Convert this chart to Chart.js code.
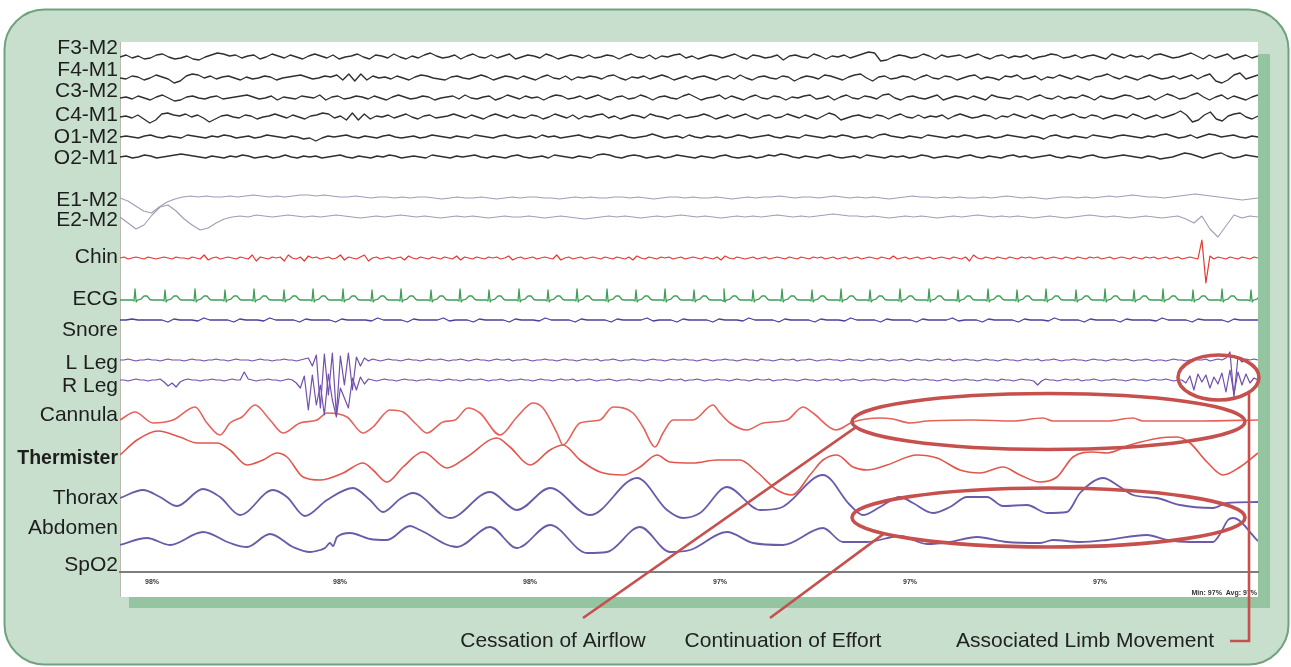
<!DOCTYPE html>
<html>
<head>
<meta charset="utf-8">
<script src="https://cdn.jsdelivr.net/npm/chart.js@4/dist/chart.umd.min.js"></script>
<style>
html,body{margin:0;padding:0;background:#fff;overflow:hidden}
canvas{display:block}
</style>
</head>
<body>
<canvas id="psg" width="1291" height="667"></canvas>
<script>
// ---- Epoch data (time axis in samples, amplitudes in display units, up = positive) ----
const SPAN = 1138;

const channelNames = ['F3-M2','F4-M1','C3-M2','C4-M1','O1-M2','O2-M1','E1-M2','E2-M2','Chin','ECG','Snore','L Leg','R Leg','Cannula','Thermister','Thorax','Abdomen','SpO2'];

const f3m2 = [0,2,-1,1,-2,-1,2,3,0,-2,-1,1,-2,-3,0,2,4,3,1,2,-1,1,2,-2,0,3,1,-1,2,0,-2,1,3,1,-1,2,-2,0,1,3,0,-2,2,1,-1,3,0,-2,1,-1,2,4,1,-1,0,2,-2,1,3,0,-1,2,-1,1,3,-2,0,2,1,-1,3,1,-2,0,2,1,-1,2,-1,0,2,1,-2,1,3,0,-1,2,-2,1,0,2,3,-1,1,-2,0,2,1,-1,1,3,0,-2,2,1,-1,0,2,-3,1,2,0,-1,3,1,-2,1,0,2,-1,1,3,5,4,-4,-3,0,2,1,-1,0,3,1,-2,2,0,1,2,-1,1,3,0,-2,1,2,-1,1,0,2,-2,0,1,3,2,-1,0,2,-1,1,2,0,-2,3,1,-1,2,0,1,-2,2,3,1,-1,0,2,4,1,-2,2,-1,1,3,-2,0,2,-1,1];
const f4m1 = [0,-1,2,1,-2,0,3,1,-1,-5,-3,2,4,3,0,2,-1,1,2,0,-2,1,-1,0,2,1,-2,0,1,2,3,1,-1,0,2,1,3,-2,4,-3,4,-2,2,0,1,-1,2,0,-2,1,3,2,0,-1,-2,1,2,0,-1,1,3,1,-2,0,2,1,-1,2,0,-2,1,3,0,-1,2,-2,1,0,2,1,-1,2,3,0,-2,1,0,2,-1,1,3,1,-2,0,2,-1,1,2,0,-2,1,2,-1,3,0,-2,1,2,0,-1,2,1,-3,0,2,1,-1,3,2,0,-2,1,3,4,0,-3,1,2,-1,0,2,1,-2,1,3,0,-1,2,1,-2,0,2,3,-1,1,0,-2,2,1,3,-1,0,2,-2,1,0,3,1,-1,2,0,-2,1,2,4,1,-1,2,0,-2,1,3,1,-1,0,2,-1,1,3,-1,2,4,-3,-5,-2,3,5,-1,1,3];
const c3m2 = [0,1,-1,2,0,-2,1,3,0,-3,-2,1,2,0,-1,1,2,-1,0,1,2,3,1,-1,0,2,-2,1,0,-1,2,1,0,3,-2,1,2,-1,0,2,1,-1,2,0,-2,1,3,1,-1,0,2,1,-2,0,1,2,-1,3,0,-1,1,2,-2,0,3,1,-1,2,0,1,-2,1,3,2,-1,0,2,-1,1,3,0,-2,1,2,-1,0,3,1,-2,1,2,0,-1,2,4,1,-2,0,1,3,-1,2,0,-2,1,3,0,-1,2,1,-2,1,0,2,3,-1,0,2,-2,1,3,0,-1,2,1,-1,3,4,0,-2,1,2,0,-1,1,3,-2,0,2,1,-1,2,0,-2,3,1,0,-1,2,1,-2,1,3,0,-1,2,-1,1,0,3,1,-2,2,0,-1,1,3,2,-1,0,2,-2,1,4,2,-1,0,3,5,1,-2,1,3,-1,2,0,-2,1,3];
const c4m1 = [0,1,-1,2,-2,-6,-3,3,4,2,1,3,0,2,-1,-5,-2,1,2,0,-1,2,1,-2,0,1,3,1,-1,2,0,-2,1,2,4,3,-1,1,-3,4,-3,3,-2,1,0,2,-1,1,3,0,-2,1,2,-1,0,1,3,1,-1,2,0,-2,1,3,1,-1,2,0,-1,2,1,-2,0,3,1,-1,2,-2,1,0,2,3,-1,1,-2,0,2,1,-1,3,1,0,-2,1,2,-1,0,1,3,1,-2,0,2,-1,1,3,0,-2,1,2,-1,0,3,1,-1,2,0,-2,1,4,2,-3,-1,1,2,0,-1,2,1,-2,1,3,0,-1,2,-1,1,0,2,-2,1,3,1,-1,0,2,1,-2,1,0,3,1,-1,2,0,-2,1,2,-1,1,3,0,-1,2,1,-2,0,2,1,-1,3,1,-2,0,2,-1,1,3,6,2,-5,-3,2,5,-2,-4,1,3,4,0,-2,1];
const o1m2 = [0,1,0,-1,1,2,0,-1,1,0,-1,2,1,0,-1,1,0,2,1,-1,0,1,-1,0,2,1,0,-1,1,0,-2,-1,-4,-1,1,0,1,2,0,-1,1,0,-1,1,2,0,-1,0,1,-1,0,2,1,0,-1,1,0,-1,2,1,0,-1,1,2,0,-1,0,1,-1,2,0,1,-1,0,1,2,0,-1,1,0,-1,1,2,0,-1,0,1,3,1,-1,0,1,-1,2,0,-1,1,0,1,-1,0,2,1,-1,0,1,2,0,-1,1,0,-1,2,1,0,-1,1,0,2,1,-1,0,1,-1,2,3,1,0,-1,1,0,-1,2,1,0,-1,1,0,2,1,-1,0,1,-1,0,2,1,0,-1,1,0,-2,1,2,0,-1,1,0,-1,2,1,0,-1,1,2,1,0,-1,1,0,2,3,1,-1,0,2,-1,1,3,2,0,1,2,0,-1,1,0];
const o2m1 = [0,1,-1,0,2,1,-1,0,1,2,3,2,1,0,-1,1,0,-1,1,0,2,1,-1,0,1,-1,0,2,0,-1,1,0,1,-1,0,1,2,0,-1,1,0,-1,1,0,2,1,-1,0,1,0,-1,2,1,0,-1,1,0,1,2,0,-1,1,0,-1,1,2,0,-1,0,1,-1,2,1,0,-1,1,0,-1,2,3,2,0,-1,1,2,1,-1,0,1,-1,0,2,1,0,-1,1,0,-1,1,2,0,-1,0,1,-1,0,2,1,3,2,0,-1,1,0,-1,1,2,0,-1,0,1,-1,2,1,0,-1,1,0,1,-1,0,2,1,-1,0,1,0,-1,1,2,0,-1,1,0,-1,1,2,0,1,-1,0,1,2,0,-1,1,0,-1,1,2,0,-1,0,1,2,1,0,-1,1,0,-2,-1,0,2,4,3,1,-1,1,3,4,1,-1,0,2,1,0];

const e1m2 = [0,-3,-8,-13,-15,-9,-4,-1,1,2,1,2,1,1,2,1,2,3,2,1,2,1,2,3,3,2,3,2,1,1,2,1,0,1,1,0,1,0,1,1,0,-1,0,1,0,0,1,0,-1,0,1,0,1,1,0,0,-1,0,1,0,1,0,0,1,1,0,1,0,-1,0,1,1,0,1,0,0,1,0,-1,0,1,0,1,1,2,1,0,1,1,0,1,2,1,0,1,0,1,0,-1,0,1,2,1,1,0,1,0,1,0,0,1,0,1,2,1,0,1,0,-1,0,1,1,0,1,0,1,2,1,2,3,2,1,1,0,1,2,3,4,3,2,1,0,-1,-2,-1,0];
const e2m2 = [0,-6,-12,-8,2,10,12,6,-2,-8,-13,-11,-6,-2,0,1,0,2,1,0,1,2,1,0,1,0,1,2,1,0,-1,0,1,0,1,2,1,0,1,0,-1,0,1,0,1,0,-1,0,1,0,0,1,0,-1,0,1,0,-1,-2,-1,0,1,0,1,0,-1,0,1,0,1,2,1,0,1,0,-1,0,1,0,1,0,1,2,1,0,1,0,1,2,3,2,1,1,0,1,0,-1,0,1,0,1,0,-1,0,1,0,1,2,1,0,1,0,1,0,-1,0,1,0,-1,0,1,2,1,0,1,0,-1,0,1,0,-1,0,1,-2,-6,1,-12,-20,-9,2,-1,1,0];

const chin = [0,1,-1,0,1,0,-1,1,0,-1,0,1,0,-1,1,0,0,-1,1,0,
-1,3,-2,0,1,-1,0,1,0,-1,1,0,-1,3,-3,1,0,-1,1,0,
1,-3,3,0,-1,1,-3,2,0,1,-1,0,1,-1,0,3,-2,1,0,-1,
1,3,-3,0,1,-1,0,1,-1,0,1,-2,2,0,-1,1,0,-1,1,0,
-1,1,0,-1,2,-2,1,0,-1,1,0,-1,1,0,1,-1,0,2,-2,0,
1,-1,0,1,-1,0,1,0,-1,3,-2,0,1,-1,0,1,-1,0,1,0,
-1,1,0,-1,1,0,-1,1,-2,2,0,-1,1,0,-1,1,0,1,-1,0,
1,-1,0,1,0,-1,1,0,-1,1,-2,2,0,-1,1,0,-1,0,1,-1,
0,1,-1,0,1,0,-1,1,0,-1,1,0,-1,1,0,1,-1,0,1,-1,
0,1,-1,0,1,-1,0,1,0,-1,1,0,-1,2,-1,0,1,-1,0,1,
-1,0,1,-1,0,1,0,-1,1,0,-1,1,-3,3,0,-1,1,0,-1,1,
0,-1,1,0,-1,1,0,1,-1,0,1,-1,0,1,0,-1,1,0,-1,1,
0,-1,1,0,1,-1,0,1,-1,0,1,0,-1,1,0,-1,1,0,1,-1,
0,1,-1,0,1,-1,0,1,0,-1,18,-25,2,-1,1,0,-1,1,0,-1,
1,0,-1,1,0];

// R-peak times and heights of each heartbeat
const ecgBeatTimes = [15,45,75,105,134,164,193,223,252,281,311,340,369,399,428,457,487,516,545,574,604,633,662,692,721,750,780,809,838,868,897,926,956,985,1014,1043,1073,1102,1131];
const ecgBeatR = [11,10,11,10,11,10,11,11,10,11,10,11,10,11,10,11,11,10,11,10,11,10,11,10,11,10,11,11,10,11,10,11,10,11,10,11,10,11,10];
// one P-QRS-T complex relative to its R peak: [time offset, level]; null marks the R peak
const ecgComplex = [[-2.5,0],[-1,-1],[0,null],[1.2,-2],[2.5,0],[6,1],[9,4],[12,4],[15,0.5],[17,0]];

const snore = [0,0,1,0,0,0,0,0,-2,1,0,0,0,-1,2,0,0,0,0,-2,1,0,0,0,-1,2,0,0,0,0,-2,1,0,0,0,0,-2,1,0,0,0,0,-1,2,0,0,0,0,-2,1,0,0,0,0,2,-1,0,0,0,-2,1,0,0,0,0,-2,1,0,0,0,-1,2,0,0,0,0,-2,1,0,0,0,0,-2,1,0,0,0,0,2,-1,0,0,0,-2,1,0,0,0,0,-2,1,0,0,0,-1,2,0,0,0,0,-2,1,0,0,0,0,-2,1,0,0,0,-1,2,0,0,0,0,-2,1,0,0,0,0,-2,1,0,0,0,0,2,-1,0,0,0,-2,1,0,0,0,0,-2,1,0,0,0,-1,2,0,0,0,0,-2,1,0,0,0,0,-2,1,0,0,0,0,-1,2,0,0,0,0,-2,1,0,0,0,0,-2,1,0,0,0,0];

const legLeft = [0,0,1,0,-1,0,0,1,0,0,-1,0,1,0,0,0,-1,0,1,0,
0,-1,0,0,1,0,0,-1,0,1,0,0,0,-1,0,1,0,0,-1,0,
0,1,0,0,-1,0,1,2,-6,5,-48,6,-35,7,-55,4,-25,7,-30,3,
-6,2,-1,1,0,-1,0,1,0,0,-1,0,1,0,0,-1,0,1,0,0,
1,0,-1,0,0,1,0,-1,0,1,0,0,-1,0,1,0,0,1,-1,0,
0,1,0,-1,0,0,1,0,0,-1,0,1,0,0,-1,0,1,0,0,1,
-1,0,0,1,0,-1,0,0,1,0,0,-1,0,1,0,0,-1,0,1,0,
0,1,0,0,-1,0,1,0,-1,0,0,1,0,0,-1,0,1,0,0,-1,
1,0,0,-1,0,1,0,0,1,-1,0,0,1,0,-1,0,0,1,0,0,
-1,0,1,0,0,-1,0,1,0,0,1,0,-1,0,0,1,0,-1,0,1,
0,0,-1,0,1,0,0,1,-1,0,0,1,0,0,-1,0,1,0,0,-1,
0,1,0,0,-1,0,1,0,0,1,-1,0,0,1,0,-1,0,0,1,0,
0,-1,0,1,0,0,-1,0,1,0,0,1,0,-1,0,0,1,0,-1,0,
0,-1,0,1,0,0,-1,0,1,0,0,1,-1,0,1,0,2,8,-37,3,
-2,1,0,1,0];
const legRight = [0,0,-1,0,1,0,0,-1,0,0,1,-2,-6,-3,-7,-2,0,1,0,0,
-1,0,0,1,0,0,-1,0,1,0,0,8,1,0,-1,0,0,1,0,0,
-1,0,1,0,-3,-8,4,-30,5,-25,-5,-35,6,-20,-37,-8,-18,-28,2,-10,
3,-4,1,0,-1,0,1,0,0,-1,0,1,0,0,-1,0,0,1,0,0,
-1,0,1,0,0,-1,0,1,0,0,1,0,-1,0,0,1,0,-1,0,0,
1,0,0,-1,0,1,0,0,-1,0,1,0,0,1,-1,0,0,1,0,-1,
0,0,1,0,-1,0,0,1,0,0,-1,0,1,0,0,-1,0,1,0,0,
1,-1,0,0,1,0,-1,0,0,1,0,0,-1,0,1,0,0,-1,0,1,
0,0,1,-1,0,0,1,0,0,-1,0,1,0,0,-1,0,1,0,0,1,
-1,0,0,1,0,-1,0,0,1,0,0,-1,0,1,0,0,-1,0,1,0,
0,1,0,0,-1,0,1,0,-1,0,0,1,0,0,-1,0,1,0,0,-1,
1,0,0,-1,0,1,0,0,-1,-5,-1,1,0,0,-1,0,1,0,0,1,
-1,0,0,1,0,-1,0,0,1,0,0,-1,0,1,0,0,-1,0,1,0,
0,1,0,-1,0,0,-3,4,-10,6,-2,5,-8,3,-4,7,-12,10,-14,8,
-5,6,-3,2,0];

// respiratory channels: [time, amplitude]
const cannula = [[0,0],[15,8],[33,-3],[53,0],[75,13],[87,-3],[100,-15],[110,-3],[122,3],[135,15],[150,0],[163,-13],[180,-3],[197,0],[207,7],[227,3],[243,-13],[253,-7],[270,10],[283,8],[296,-4],[307,-13],[323,-2],[335,0],[348,12],[360,7],[380,-15],[397,3],[413,17],[423,12],[437,-13],[443,-25],[460,-3],[480,0],[493,13],[513,7],[523,-7],[535,-27],[543,-13],[553,0],[573,0],[593,15],[600,7],[610,-3],[627,-10],[643,-3],[667,0],[683,13],[693,7],[716,-10],[733,-2],[760,2],[773,1],[790,-3],[807,-1],[853,0],[893,-1],[923,2],[933,-1],[987,-1],[1013,2],[1023,-1],[1080,-1],[1138,0]];
const thermister = [[0,5],[17,20],[38,29],[60,23],[77,17],[97,17],[110,10],[127,-5],[143,0],[157,7],[167,3],[183,-17],[200,-20],[223,-13],[243,-3],[253,-10],[267,-22],[283,-7],[303,8],[327,-8],[347,3],[377,22],[390,13],[410,-5],[430,10],[443,15],[460,0],[480,-12],[503,-15],[520,-7],[537,5],[550,-2],[573,-3],[597,0],[620,0],[637,-12],[657,-30],[672,-35],[690,-15],[703,0],[717,5],[733,-7],[747,-10],[767,-5],[797,5],[817,2],[840,-10],[860,-13],[883,-7],[900,-15],[920,-22],[937,-17],[953,3],[973,8],[987,7],[1010,15],[1040,22],[1057,23],[1070,17],[1087,-2],[1103,-15],[1120,-7],[1138,7]];
const thorax = [[0,2],[23,10],[40,3],[57,-6],[83,11],[100,3],[120,-15],[153,10],[167,3],[185,-16],[207,0],[233,12],[250,0],[263,-12],[280,1],[293,7],[330,-18],[370,8],[397,-10],[430,12],[470,-15],[517,22],[547,-10],[563,-18],[580,-13],[607,13],[640,-10],[660,-8],[703,25],[730,-5],[743,-15],[760,-7],[780,3],[793,-3],[813,-13],[830,-7],[847,3],[867,3],[883,-6],[907,-5],[927,-13],[947,-12],[960,7],[983,22],[1000,13],[1013,5],[1037,2],[1060,-5],[1093,-8],[1107,-3],[1138,-2]];
const abdomen = [[0,-5],[27,2],[50,-5],[83,8],[110,-3],[127,-7],[150,6],[173,-7],[190,-12],[200,-10],[205,-8],[210,-3],[213,-6],[217,3],[230,7],[250,1],[267,0],[290,14],[300,10],[337,-7],[370,13],[397,-8],[430,15],[467,-13],[487,-12],[520,13],[550,-12],[570,-10],[607,8],[633,-3],[663,-5],[703,12],[723,-2],[747,-2],[780,4],[807,-4],[830,-2],[857,3],[887,-2],[920,-3],[933,0],[960,-2],[987,0],[1027,5],[1047,0],[1070,-2],[1093,-2],[1100,6],[1108,20],[1113,22],[1138,-1]];

// oximetry readout along the time axis
const spo2Times = [32,220,410,600,790,980];
const spo2Labels = ['98%','98%','98%','97%','97%','97%'];
const spo2Summary = 'Min: 97%  Avg: 97%';

// scored events
const eventNotes = ['Cessation of Airflow','Continuation of Effort','Associated Limb Movement'];

// ---- Layout of the montage (vertical offsets in display units) ----
const labelRows = [524,502,481,457,435,414,372,352,315,273,242,209,186,157,113,74,44,7];

function sampled(values, base) {
  const step = SPAN / (values.length - 1);
  return values.map((v, i) => ({x: i * step, y: base + v}));
}
function traced(pairs, base) {
  return pairs.map(([t, v]) => ({x: t, y: base + v}));
}
function heartbeat(times, peaks, base) {
  const pts = [{x: 0, y: base}];
  times.forEach((t, k) => {
    ecgComplex.forEach(([dt, lv]) => pts.push({x: t + dt, y: base + (lv === null ? peaks[k] : lv)}));
  });
  pts.push({x: SPAN, y: base});
  return pts;
}

const EEG = '#2f2f2f', EOG = '#a39bb5', RED = '#e23a32', RESP_RED = '#e6625a', PURPLE = '#7150ae', RESP_PURPLE = '#6b5aaa';
const series = [
  {data: sampled(f3m2, 515), color: EEG, width: 1.35},
  {data: sampled(f4m1, 494), color: EEG, width: 1.35},
  {data: sampled(c3m2, 474), color: EEG, width: 1.35},
  {data: sampled(c4m1, 455), color: EEG, width: 1.35},
  {data: sampled(o1m2, 435), color: EEG, width: 1.35},
  {data: sampled(o2m1, 415), color: EEG, width: 1.35},
  {data: sampled(e1m2, 374), color: EOG, width: 1.1},
  {data: sampled(e2m2, 355), color: EOG, width: 1.1},
  {data: sampled(chin, 314), color: RED, width: 1.2},
  {data: heartbeat(ecgBeatTimes, ecgBeatR, 272), color: '#3f9f58', width: 1.3},
  {data: sampled(snore, 252), color: '#4b3f9f', width: 1.3},
  {data: sampled(legLeft, 212), color: PURPLE, width: 1.2},
  {data: sampled(legRight, 192), color: PURPLE, width: 1.2},
  {data: traced(cannula, 152), color: RESP_RED, width: 1.6, smooth: true},
  {data: traced(thermister, 112), color: '#e2574d', width: 1.6, smooth: true},
  {data: traced(thorax, 72), color: RESP_PURPLE, width: 1.8, smooth: true},
  {data: traced(abdomen, 32), color: RESP_PURPLE, width: 1.8, smooth: true}
];

// event outlines in data units
const outlines = [
  {t: 928.5, v: 150.5, rt: 196.5, rv: 28},
  {t: 928.5, v: 54.5, rt: 196.5, rv: 29.5},
  {t: 1098.5, v: 194.5, rt: 40.5, rv: 22.5}
];

Chart.defaults.font.family = '"Liberation Sans", Arial, Helvetica, sans-serif';

const frame = {
  id: 'frame',
  beforeDraw(chart) {
    const {ctx, chartArea: a} = chart;
    ctx.save();
    ctx.fillStyle = '#ffffff';
    ctx.fillRect(0, 0, chart.width, chart.height);
    // rounded card
    const x0 = 4.5, y0 = 9.5, w = 1284, h = 655, r = 40;
    ctx.beginPath();
    ctx.moveTo(x0 + r, y0);
    ctx.lineTo(x0 + w - r, y0);
    ctx.arcTo(x0 + w, y0, x0 + w, y0 + r, r);
    ctx.lineTo(x0 + w, y0 + h - r);
    ctx.arcTo(x0 + w, y0 + h, x0 + w - r, y0 + h, r);
    ctx.lineTo(x0 + r, y0 + h);
    ctx.arcTo(x0, y0 + h, x0, y0 + h - r, r);
    ctx.lineTo(x0, y0 + r);
    ctx.arcTo(x0, y0, x0 + r, y0, r);
    ctx.closePath();
    ctx.fillStyle = '#c7dfcc';
    ctx.fill();
    ctx.lineWidth = 2;
    ctx.strokeStyle = '#6fa37d';
    ctx.stroke();
    // offset shadow of the recording sheet
    const sheetBottom = a.bottom + 25;
    ctx.fillStyle = '#94c5a0';
    ctx.fillRect(a.right, a.top + 12, 12, sheetBottom - a.top - 1);
    ctx.fillRect(a.left + 9, sheetBottom, a.right - a.left + 3, 11);
    // sheet
    ctx.fillStyle = '#ffffff';
    ctx.fillRect(a.left, a.top, a.right - a.left, sheetBottom - a.top);
    ctx.strokeStyle = '#b9b9b0';
    ctx.lineWidth = 1;
    ctx.beginPath();
    ctx.moveTo(a.left + 0.5, a.top);
    ctx.lineTo(a.left + 0.5, sheetBottom);
    ctx.stroke();
    ctx.restore();
  }
};

const callouts = {
  id: 'callouts',
  afterDraw(chart) {
    const {ctx, chartArea: a, scales: {x, y}} = chart;
    ctx.save();
    // summary line of the oximetry channel
    ctx.fillStyle = '#333';
    ctx.font = 'bold 7px "Liberation Sans", Arial, sans-serif';
    ctx.textAlign = 'right';
    ctx.textBaseline = 'middle';
    ctx.fillText(spo2Summary, a.right - 1, a.bottom + 21);

    const red = '#c6504d';
    const geo = outlines.map(o => {
      const cx = x.getPixelForValue(o.t), cy = y.getPixelForValue(o.v);
      return {cx, cy, rx: x.getPixelForValue(o.t + o.rt) - cx, ry: cy - y.getPixelForValue(o.v + o.rv)};
    });
    const onRim = (g, deg) => [g.cx + g.rx * Math.cos(deg * Math.PI / 180), g.cy + g.ry * Math.sin(deg * Math.PI / 180)];

    ctx.strokeStyle = red;
    ctx.lineWidth = 2.6;
    ctx.lineCap = 'butt';
    // leaders
    const p1 = onRim(geo[0], 168.5);
    ctx.beginPath(); ctx.moveTo(583, 618); ctx.lineTo(p1[0], p1[1]); ctx.stroke();
    const p2 = onRim(geo[1], 146.9);
    ctx.beginPath(); ctx.moveTo(770, 618); ctx.lineTo(p2[0], p2[1]); ctx.stroke();
    const p3 = onRim(geo[2], 41.1);
    ctx.beginPath(); ctx.moveTo(1230, 641); ctx.lineTo(p3[0], 641); ctx.lineTo(p3[0], p3[1]); ctx.stroke();

    ctx.lineWidth = 3.6;
    geo.forEach(g => {
      ctx.beginPath();
      ctx.ellipse(g.cx, g.cy, g.rx, g.ry, 0, 0, Math.PI * 2);
      ctx.stroke();
    });

    ctx.fillStyle = '#222';
    ctx.font = '21px "Liberation Sans", Arial, sans-serif';
    ctx.textAlign = 'center';
    ctx.textBaseline = 'middle';
    ctx.fillText(eventNotes[0], 553, 641);
    ctx.fillText(eventNotes[1], 783, 641);
    ctx.fillText(eventNotes[2], 1085, 641);
    ctx.restore();
  }
};

new Chart(document.getElementById('psg'), {
  type: 'line',
  data: {
    datasets: series.map((s, i) => ({
      label: channelNames[i],
      data: s.data,
      borderColor: s.color,
      borderWidth: s.width,
      cubicInterpolationMode: s.smooth ? 'monotone' : 'default',
      tension: 0,
      pointRadius: 0,
      fill: false,
      borderJoinStyle: 'round'
    }))
  },
  options: {
    responsive: false,
    animation: false,
    events: [],
    layout: {padding: {top: 42, right: 33, left: 0, bottom: 0}},
    plugins: {legend: {display: false}, tooltip: {enabled: false}},
    scales: {
      x: {
        type: 'linear', min: 0, max: SPAN,
        grid: {display: false, drawTicks: false},
        border: {display: true, color: '#7e7e7e', width: 2},
        afterBuildTicks: s => { s.ticks = spo2Times.map(v => ({value: v})); },
        afterFit: s => { s.height = 95; },
        ticks: {
          autoSkip: false, maxRotation: 0, padding: 6,
          color: '#3a3a3a',
          font: {size: 7, weight: 'bold'},
          callback: (v, i) => spo2Labels[i]
        }
      },
      y: {
        type: 'linear', min: 0, max: 530,
        grid: {display: false, drawTicks: false},
        border: {display: false},
        afterBuildTicks: s => { s.ticks = labelRows.map(v => ({value: v})); },
        afterFit: s => { s.width = 120; },
        ticks: {
          autoSkip: false, padding: 2,
          color: '#1e1e1e',
          font: c => (channelNames[c.index] === 'Thermister' ? {size: 19.5, weight: 'bold'} : {size: 21, weight: 'normal'}),
          callback: (v, i) => channelNames[i]
        }
      }
    }
  },
  plugins: [frame, callouts]
});
</script>
</body>
</html>
